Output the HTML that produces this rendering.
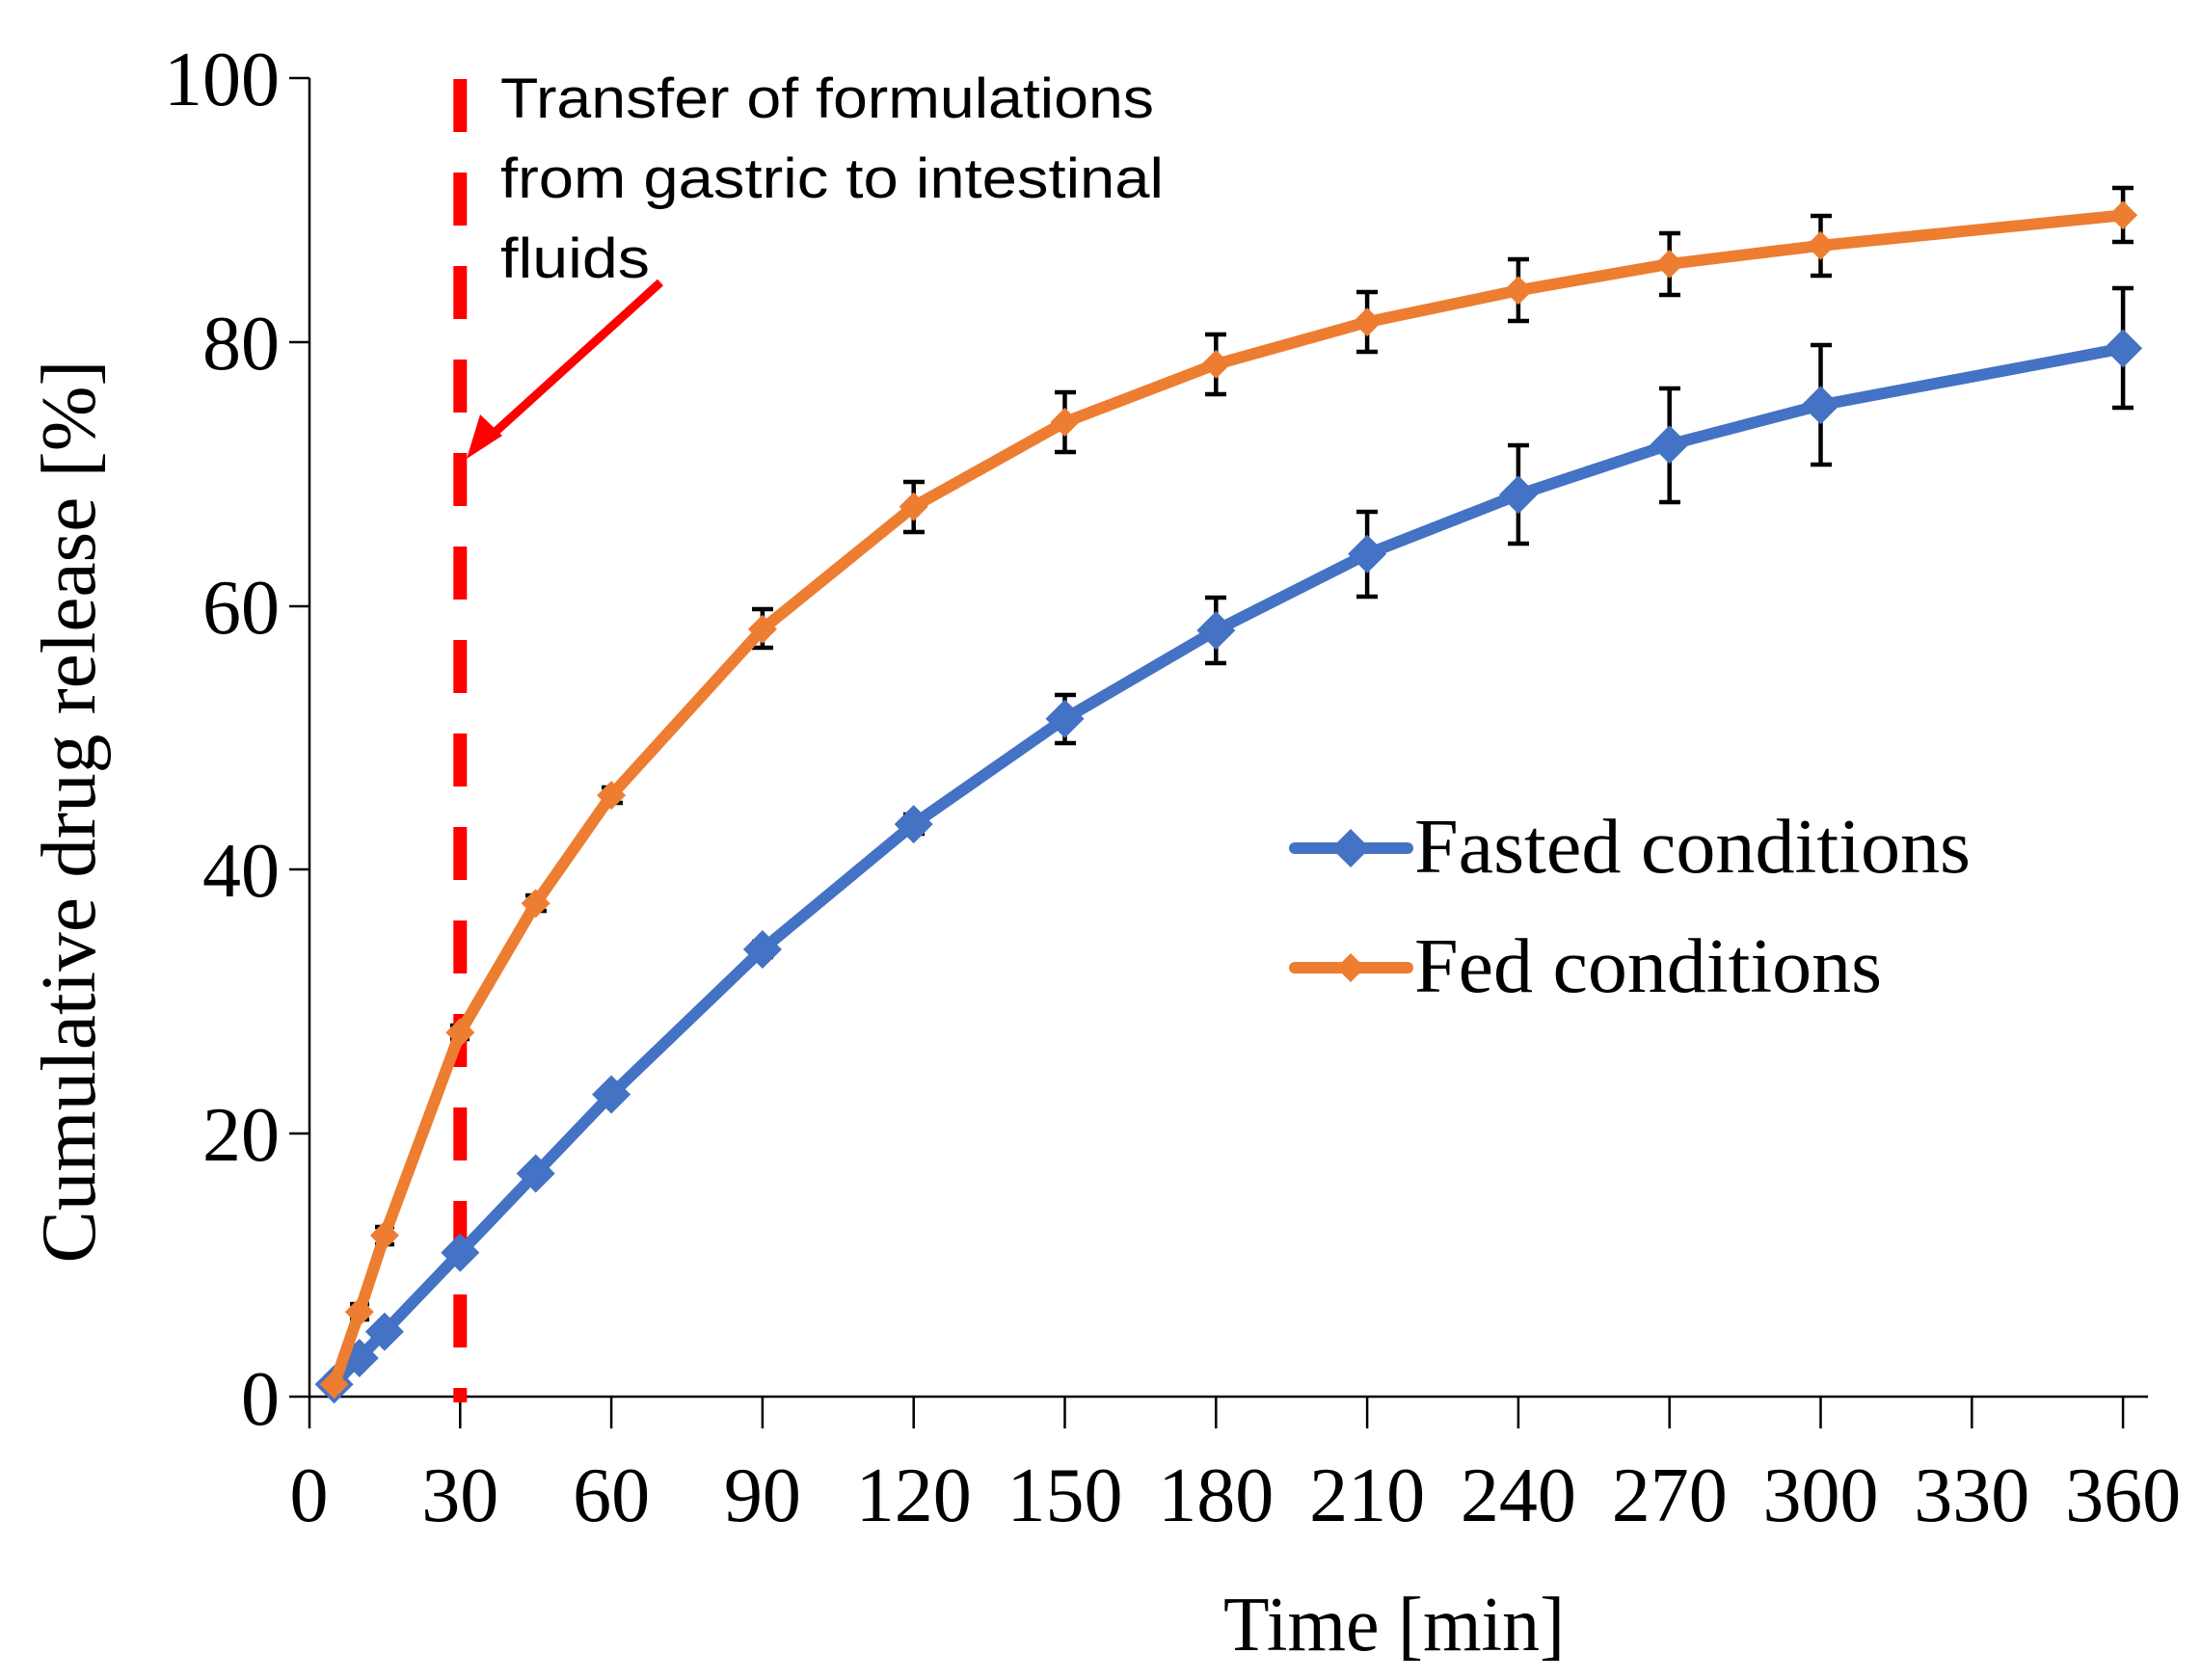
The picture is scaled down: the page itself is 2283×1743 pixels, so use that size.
<!DOCTYPE html>
<html><head><meta charset="utf-8"><style>html,body{margin:0;padding:0;background:#fff}svg{display:block}</style></head>
<body>
<svg width="2283" height="1743" viewBox="0 0 2283 1743" xmlns="http://www.w3.org/2000/svg">
<rect width="2283" height="1743" fill="#fff"/>
<g stroke="#000" stroke-width="2.5" fill="none">
<line x1="321" y1="81" x2="321" y2="1482"/>
<line x1="300" y1="1449" x2="2228" y2="1449"/>
<line x1="300" y1="81" x2="321" y2="81"/>
<line x1="300" y1="355" x2="321" y2="355"/>
<line x1="300" y1="629" x2="321" y2="629"/>
<line x1="300" y1="902" x2="321" y2="902"/>
<line x1="300" y1="1176" x2="321" y2="1176"/>
<line x1="477.3" y1="1449" x2="477.3" y2="1482"/><line x1="634.1" y1="1449" x2="634.1" y2="1482"/>
<line x1="790.9" y1="1449" x2="790.9" y2="1482"/><line x1="947.7" y1="1449" x2="947.7" y2="1482"/>
<line x1="1104.5" y1="1449" x2="1104.5" y2="1482"/><line x1="1261.3" y1="1449" x2="1261.3" y2="1482"/>
<line x1="1418.1" y1="1449" x2="1418.1" y2="1482"/><line x1="1574.9" y1="1449" x2="1574.9" y2="1482"/>
<line x1="1731.7" y1="1449" x2="1731.7" y2="1482"/><line x1="1888.5" y1="1449" x2="1888.5" y2="1482"/>
<line x1="2045.3" y1="1449" x2="2045.3" y2="1482"/><line x1="2202.1" y1="1449" x2="2202.1" y2="1482"/>
</g>
<g font-family="Liberation Serif, serif" font-size="80" fill="#000" text-anchor="end">
<text x="290" y="109">100</text><text x="290" y="383">80</text><text x="290" y="657">60</text>
<text x="290" y="930">40</text><text x="290" y="1204">20</text><text x="290" y="1478">0</text>
</g>
<g font-family="Liberation Serif, serif" font-size="80" fill="#000" text-anchor="middle">
<text x="320.5" y="1578">0</text><text x="477.3" y="1578">30</text><text x="634.1" y="1578">60</text>
<text x="790.9" y="1578">90</text><text x="947.7" y="1578">120</text><text x="1104.5" y="1578">150</text>
<text x="1261.3" y="1578">180</text><text x="1418.1" y="1578">210</text><text x="1574.9" y="1578">240</text>
<text x="1731.7" y="1578">270</text><text x="1888.5" y="1578">300</text><text x="2045.3" y="1578">330</text>
<text x="2202.1" y="1578">360</text>
<text x="1446" y="1712" textLength="354" lengthAdjust="spacingAndGlyphs">Time [min]</text>
<text transform="translate(98,842) rotate(-90)" textLength="937" lengthAdjust="spacingAndGlyphs">Cumulative drug release [%]</text>
</g>
<line x1="477.3" y1="82" x2="477.3" y2="1455" stroke="#ff0000" stroke-width="14" stroke-dasharray="55 42"/>
<line x1="685" y1="293" x2="505" y2="456" stroke="#ff0000" stroke-width="9"/>
<polygon points="484,476 498,430 521,452" fill="#ff0000"/>
<g font-family="Liberation Sans, sans-serif" font-size="58" fill="#000">
<text x="519" y="122" textLength="678" lengthAdjust="spacingAndGlyphs">Transfer of formulations</text>
<text x="519" y="205" textLength="688" lengthAdjust="spacingAndGlyphs">from gastric to intestinal</text>
<text x="519" y="288" textLength="155" lengthAdjust="spacingAndGlyphs">fluids</text>
</g>
<g stroke="#000" stroke-width="4.5" fill="none">
<path d="M790.9 977v16M780 977h22M780 993h22 M947.7 845v20M937 845h22M937 865h22 M1104.5 721v50M1094 721h22M1094 771h22 M1261.3 620v68M1250 620h22M1250 688h22 M1418.1 531v88M1407 531h22M1407 619h22 M1574.9 462v102M1564 462h22M1564 564h22 M1731.7 403v118M1721 403h22M1721 521h22 M1888.5 358v124M1878 358h22M1878 482h22 M2202.1 299v124M2191 299h22M2191 423h22"/>
<path d="M372.8 1353v16M363 1353h20M363 1369h20 M398.9 1273v18M389 1273h20M389 1291h20 M477.3 1064v14M467 1064h20M467 1078h20 M555.7 929v16M545 929h22M545 945h22 M634.1 817v16M624 817h22M624 833h22 M790.9 632v40M780 632h22M780 672h22 M947.7 500v52M937 500h22M937 552h22 M1104.5 407v62M1094 407h22M1094 469h22 M1261.3 347v62M1250 347h22M1250 409h22 M1418.1 303v62M1407 303h22M1407 365h22 M1574.9 269v64M1564 269h22M1564 333h22 M1731.7 242v64M1721 242h22M1721 306h22 M1888.5 224v62M1878 224h22M1878 286h22 M2202.1 195v56M2191 195h22M2191 251h22"/>
</g>
<defs>
<path id="db" d="M0 -20L20 0L0 20L-20 0Z" fill="#4472C4"/>
<path id="do" d="M0 -15L15 0L0 15L-15 0Z" fill="#ED7D31"/>
</defs>
<polyline fill="none" stroke="#4472C4" stroke-width="12" stroke-linejoin="round" points="346.6,1436.3 372.8,1409 398.9,1381.6 477.3,1299.6 555.7,1217.5 634.1,1135.5 790.9,985 947.7,855.1 1104.5,745.7 1261.3,654.1 1418.1,574.8 1574.9,513.3 1731.7,461.3 1888.5,420.3 2202.1,361.4"/>
<g>
<use href="#db" x="346.6" y="1436.3"/><use href="#db" x="372.8" y="1409"/><use href="#db" x="398.9" y="1381.6"/><use href="#db" x="477.3" y="1299.6"/><use href="#db" x="555.7" y="1217.5"/><use href="#db" x="634.1" y="1135.5"/><use href="#db" x="790.9" y="985"/><use href="#db" x="947.7" y="855.1"/><use href="#db" x="1104.5" y="745.7"/><use href="#db" x="1261.3" y="654.1"/><use href="#db" x="1418.1" y="574.8"/><use href="#db" x="1574.9" y="513.3"/><use href="#db" x="1731.7" y="461.3"/><use href="#db" x="1888.5" y="420.3"/><use href="#db" x="2202.1" y="361.4"/>
</g>
<polyline fill="none" stroke="#ED7D31" stroke-width="12" stroke-linejoin="round" points="346.6,1436.3 372.8,1361.1 398.9,1281.8 477.3,1071.2 555.7,937.2 634.1,825.1 790.9,652.7 947.7,525.6 1104.5,438 1261.3,377.9 1418.1,334.1 1574.9,301.3 1731.7,273.9 1888.5,254.8 2202.1,223.3"/>
<g>
<use href="#do" x="346.6" y="1436.3"/><use href="#do" x="372.8" y="1361.1"/><use href="#do" x="398.9" y="1281.8"/><use href="#do" x="477.3" y="1071.2"/><use href="#do" x="555.7" y="937.2"/><use href="#do" x="634.1" y="825.1"/><use href="#do" x="790.9" y="652.7"/><use href="#do" x="947.7" y="525.6"/><use href="#do" x="1104.5" y="438"/><use href="#do" x="1261.3" y="377.9"/><use href="#do" x="1418.1" y="334.1"/><use href="#do" x="1574.9" y="301.3"/><use href="#do" x="1731.7" y="273.9"/><use href="#do" x="1888.5" y="254.8"/><use href="#do" x="2202.1" y="223.3"/>
</g>
<line x1="1343" y1="880" x2="1460" y2="880" stroke="#4472C4" stroke-width="12" stroke-linecap="round"/>
<use href="#db" x="1401" y="880"/>
<line x1="1343" y1="1004" x2="1460" y2="1004" stroke="#ED7D31" stroke-width="12" stroke-linecap="round"/>
<use href="#do" x="1401" y="1004"/>
<g font-family="Liberation Serif, serif" font-size="80" fill="#000">
<text x="1467" y="905" textLength="577" lengthAdjust="spacingAndGlyphs">Fasted conditions</text>
<text x="1467" y="1029" textLength="485" lengthAdjust="spacingAndGlyphs">Fed conditions</text>
</g>
</svg>
</body></html>
